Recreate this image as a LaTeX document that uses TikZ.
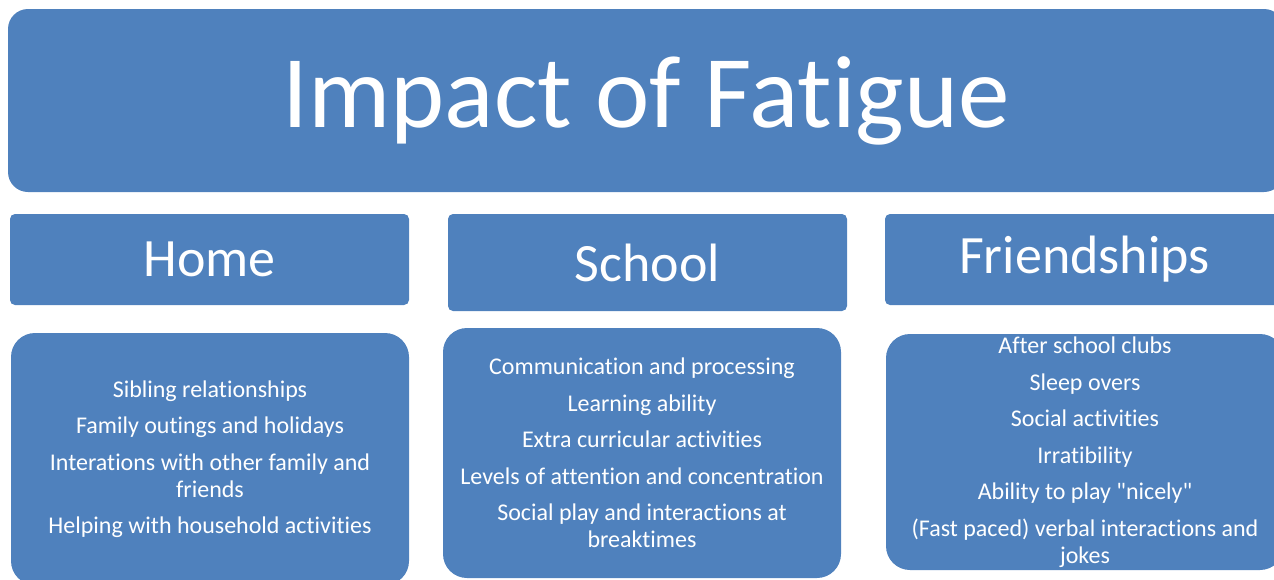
\documentclass[tikz,border=0pt]{standalone}
\usepackage{fontspec}
\setmainfont{Carlito}[Ligatures={TeXOff, CommonOff, ContextualOff, RequiredOff}]
\usepackage{tikz}
\definecolor{fatblue}{HTML}{4F81BD}

\begin{document}
\begin{tikzpicture}[x=1pt, y=-1pt,
    box/.style={fill=fatblue, text=white, draw=none, outer sep=0pt,
                inner sep=0pt, align=center, anchor=north west},
    head/.style={box, rounded corners=5pt, minimum width=399pt,
                 font=\fontsize{54}{65}\selectfont},
    list/.style={box, rounded corners=24pt, minimum width=398pt,
                 font=\fontsize{24}{27}\selectfont}]
    \useasboundingbox (0,0) rectangle (1274,579);
    \clip (0,0) rectangle (1274,579);
    % title
    \node[box, rounded corners=20pt, minimum width=1276pt, minimum height=183pt,
          font=\fontsize{103}{124}\selectfont] (title) at (8,9) {Impact of Fatigue};
    % column heads
    \node[head, minimum height=91pt] (home) at (10,214) {Home};
    \node[head, minimum height=97pt] (school) at (448,214) {School};
    \node[head, minimum height=91pt] (friends) at (885,214) {Friendships};
    % lists
    \node[list, minimum height=252pt] (homelist) at (11,333)
        {Sibling relationships\\[9.5pt]
         Family outings and holidays\\[9.5pt]
         Interations with other family and\\ friends\\[9.5pt]
         Helping with household activities};
    \node[list, minimum height=250pt] (schoollist) at (443,328)
        {Communication and processing\\[9.5pt]
         Learning ability\\[9.5pt]
         Extra curricular activities\\[9.5pt]
         Levels of attention and concentration\\[9.5pt]
         Social play and interactions at\\ breaktimes};
    \node[list, minimum height=236pt] (friendslist) at (886,334)
        {After school clubs\\[9.5pt]
         Sleep overs\\[9.5pt]
         Social activities\\[9.5pt]
         Irratibility\\[9.5pt]
         Ability to play "nicely"\\[9.5pt]
         (Fast paced) verbal interactions and\\ jokes};
\end{tikzpicture}
\end{document}
